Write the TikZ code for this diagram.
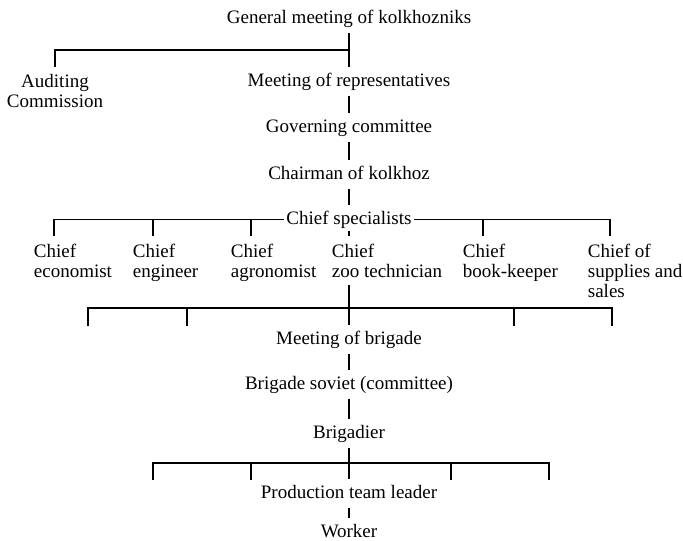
\documentclass[tikz,border=0pt]{standalone}
\usepackage{fontspec}
\setmainfont{Liberation Serif}
\usetikzlibrary{calc}
\begin{document}
\begin{tikzpicture}[x=1pt,y=-1pt, line width=1.8pt,
  every node/.style={font=\fontsize{19}{20}\selectfont},
  lbl/.style={inner xsep=2pt, inner ysep=5pt, text height=13pt, text depth=4pt, anchor=base},
  multi/.style={inner xsep=0pt, inner ysep=6pt, align=center, anchor=north},
  chief/.style={inner xsep=0pt, inner ysep=7pt, align=left, anchor=north west}]
\useasboundingbox (0,0) rectangle (683,541);
% nodes
\node[lbl] (gen) at (349,23) {General meeting of kolkhozniks};
\node[multi] (aud) at (55,67) {Auditing\\Commission};
\node[lbl] (rep) at (349,86) {Meeting of representatives};
\node[lbl] (gov) at (349,132) {Governing committee};
\node[lbl] (chair) at (349,179) {Chairman of kolkhoz};
\node[lbl] (spec) at (349,224) {Chief specialists};
\node[chief] (econ) at (33,236) {Chief\\economist};
\node[chief] (eng) at (132,236) {Chief\\engineer};
\node[chief] (agro) at (230,236) {Chief\\agronomist};
\node[chief] (zoo) at (331,236) {Chief\\zoo technician};
\node[chief] (book) at (462,236) {Chief\\book-keeper};
\node[chief] (supp) at (587,236) {Chief of\\supplies and\\sales};
\node[lbl] (mbrig) at (349,344) {Meeting of brigade};
\node[lbl] (soviet) at (349,389) {Brigade soviet (committee)};
\node[lbl] (brigadier) at (349,438) {Brigadier};
\node[lbl] (prod) at (349,498) {Production team leader};
\node[lbl] (worker) at (349,537) {Worker};
% coordinates
\coordinate (b1) at (349,50);
\coordinate (econ-t) at ($(econ.north west)+(21,0)$);
\coordinate (eng-t) at ($(eng.north west)+(21,0)$);
\coordinate (agro-t) at ($(agro.north west)+(21,0)$);
\coordinate (book-t) at ($(book.north west)+(21,0)$);
\coordinate (supp-t) at ($(supp.north west)+(23,0)$);
\coordinate (b3) at (349,308);
\coordinate (t1) at (88,326);
\coordinate (t2) at (187,326);
\coordinate (t4) at (514,326);
\coordinate (t5) at (612,326);
\coordinate (b4) at (349,463);
\coordinate (q1) at (153,480);
\coordinate (q2) at (251,480);
\coordinate (q4) at (451,480);
\coordinate (q5) at (549,480);
% connectors
\draw (gen.south) -- (rep.north);
\draw (b1) -| (aud.north);
\draw (rep.south) -- (gov.north);
\draw (gov.south) -- (chair.north);
\draw (chair.south) -- (spec.north);
\draw (spec.west) -| (econ-t);
\draw (spec.west -| eng-t) -- (eng-t);
\draw (spec.west -| agro-t) -- (agro-t);
\draw (spec.east) -| (supp-t);
\draw (spec.east -| book-t) -- (book-t);
\draw ($(spec.south)+(0,-3)$) -- (spec.south |- zoo.north);
\draw (zoo.south -| mbrig.north) -- (mbrig.north);
\draw (t1) |- (b3) -| (t5);
\draw (t2) -- (t2 |- b3);
\draw (t4) -- (t4 |- b3);
\draw (mbrig.south) -- (soviet.north);
\draw (soviet.south) -- (brigadier.north);
\draw (brigadier.south) -- (prod.north);
\draw (q1) |- (b4) -| (q5);
\draw (q2) -- (q2 |- b4);
\draw (q4) -- (q4 |- b4);
\draw (prod.south) -- (worker.north);
\end{tikzpicture}
\end{document}
